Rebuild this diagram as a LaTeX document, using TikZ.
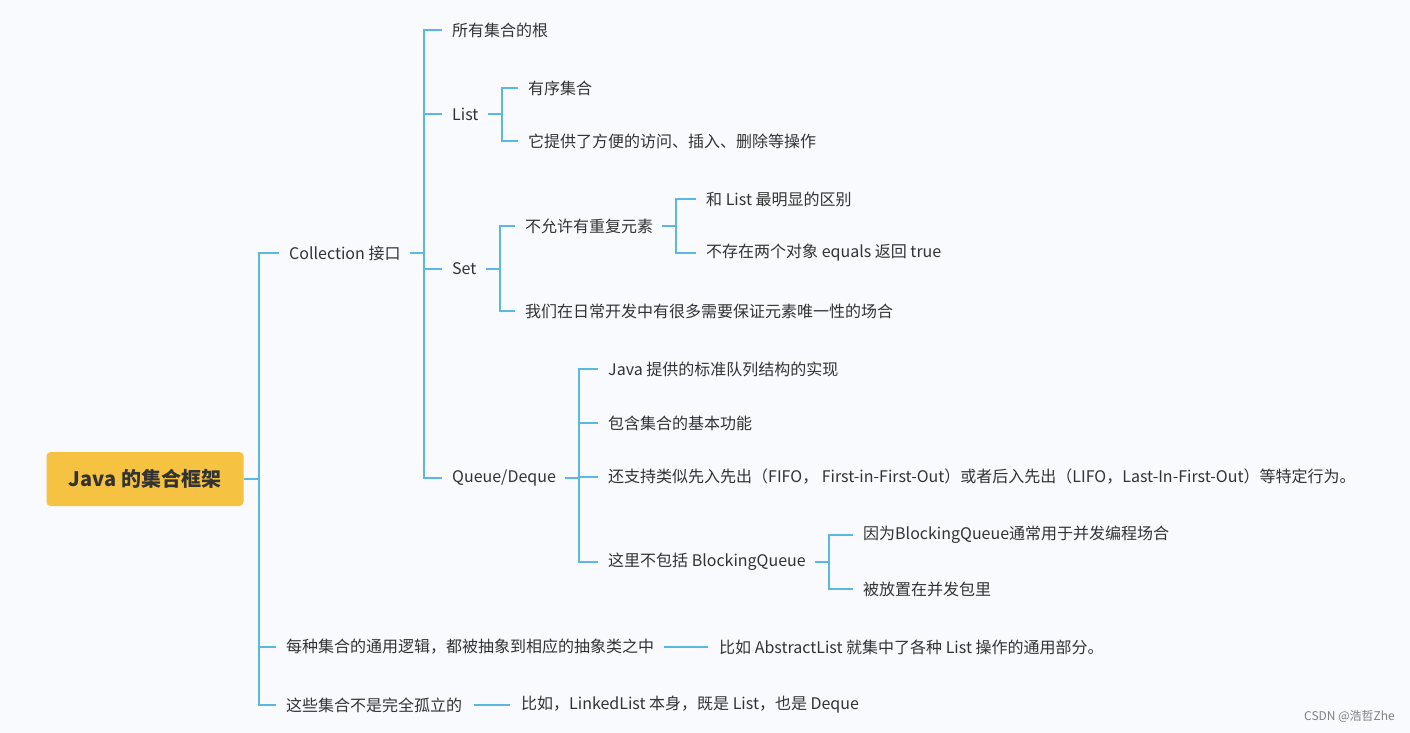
\documentclass[tikz,border=0pt]{standalone}
\usepackage{fontspec}
\setmainfont{Noto Sans CJK SC}
\begin{document}
\begin{tikzpicture}[x=1pt,y=-1pt,
  t/.style={anchor=west,inner sep=0pt,text=txt,font=\fontsize{16}{18}\selectfont},
  ln/.style={draw=lc,line width=2pt}]
\definecolor{bg}{HTML}{F8FAFE}
\definecolor{lc}{HTML}{5BB8DE}
\definecolor{txt}{HTML}{333333}
\definecolor{rootc}{HTML}{F5C242}
\fill[bg] (0,0) rectangle (1410,733);
\useasboundingbox (0,0) rectangle (1410,733);
\newcommand\edge[2]{\draw[ln] ([xshift=9]#1.east) -- ++(14,0) |- ([xshift=-10]#2.west);}
\node[fill=rootc,rounded corners=4pt,minimum width=197,minimum height=54,text=txt,font=\fontsize{20}{22}\selectfont\bfseries] (root) at (145,479) {Java 的集合框架};
\node[t] (coll) at (289,253) {Collection 接口};
\node[t] (gen) at (286,647) {每种集合的通用逻辑，都被抽象到相应的抽象类之中};
\node[t] (gen1) at (719,647) {比如 AbstractList 就集中了各种 List 操作的通用部分。};
\node[t] (iso) at (286,705) {这些集合不是完全孤立的};
\node[t] (iso1) at (521,705) {比如，LinkedList 本身，既是 List，也是 Deque};
\node[t] (root2) at (452,30) {所有集合的根};
\node[t] (list) at (452,114) {List};
\node[t] (set) at (452,269) {Set};
\node[t] (queue) at (452,478) {Queue/Deque};
\node[t] (l1) at (528,88) {有序集合};
\node[t] (l2) at (528,141) {它提供了方便的访问、插入、删除等操作};
\node[t] (s1) at (525,226) {不允许有重复元素};
\node[t] (s2) at (525,311) {我们在日常开发中有很多需要保证元素唯一性的场合};
\node[t] (s11) at (706,199) {和 List 最明显的区别};
\node[t] (s12) at (706,253) {不存在两个对象 equals 返回 true};
\node[t] (q1) at (608,369) {Java 提供的标准队列结构的实现};
\node[t] (q2) at (608,423) {包含集合的基本功能};
\node[t] (q3) at (608,477) {还支持类似先入先出（FIFO， First-in-First-Out）或者后入先出（LIFO，Last-In-First-Out）等特定行为。};
\node[t] (q4) at (608,562) {这里不包括 BlockingQueue};
\node[t] (q41) at (863,535) {因为BlockingQueue通常用于并发编程场合};
\node[t] (q42) at (863,589) {被放置在并发包里};
\node[anchor=east,inner sep=0pt,text=gray,font=\fontsize{12}{14}\selectfont] (wm) at (1395,716) {CSDN @浩哲Zhe};
\foreach \c in {coll,gen,iso}{\draw[ln] (root.east) -- ++(15,0) |- ([xshift=-10]\c.west);}
\foreach \c in {root2,list,set,queue}{\edge{coll}{\c}}
\foreach \c in {l1,l2}{\edge{list}{\c}}
\foreach \c in {s1,s2}{\edge{set}{\c}}
\foreach \c in {s11,s12}{\edge{s1}{\c}}
\foreach \c in {q1,q2,q3,q4}{\edge{queue}{\c}}
\foreach \c in {q41,q42}{\edge{q4}{\c}}
\draw[ln] ([xshift=10]gen.east) -- ([xshift=-11]gen1.west);
\draw[ln] ([xshift=12]iso.east) -- ([xshift=-11]iso1.west);
\end{tikzpicture}
\end{document}
